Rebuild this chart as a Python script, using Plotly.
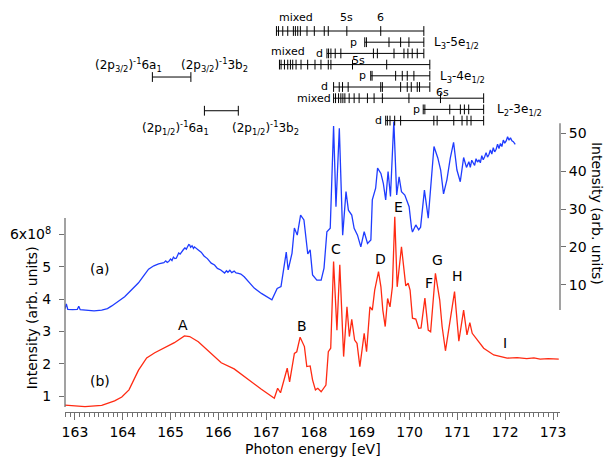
import plotly.graph_objects as go

# ---------------- spectra ----------------
# (a) upper spectrum, right axis (arb. units)
energy_a = [162.79, 162.82, 162.85, 162.95, 163.05, 163.08, 163.11, 163.25, 163.40, 163.56,
            163.68, 163.77, 163.90, 164.04, 164.18, 164.33, 164.44, 164.54, 164.65, 164.75,
            164.86, 164.90, 164.93, 164.96, 165.00, 165.03, 165.06, 165.09, 165.12, 165.15,
            165.17, 165.20, 165.24, 165.27, 165.30, 165.33, 165.35, 165.38, 165.40, 165.42,
            165.45, 165.48, 165.50, 165.54, 165.58, 165.64, 165.70, 165.77, 165.85, 165.92,
            165.98, 166.05, 166.13, 166.17, 166.20, 166.24, 166.28, 166.33, 166.37, 166.42,
            166.47, 166.54, 166.65, 166.75, 166.90, 167.00, 167.12, 167.23, 167.31, 167.42,
            167.46, 167.54, 167.59, 167.65, 167.72, 167.79, 167.87, 167.92, 167.97, 168.06,
            168.15, 168.21, 168.27, 168.34, 168.41, 168.46, 168.53, 168.60, 168.67, 168.72,
            168.79, 168.84, 168.91, 168.98, 169.05, 169.12, 169.19, 169.22, 169.29, 169.33,
            169.40, 169.45, 169.50, 169.55, 169.60, 169.67, 169.73, 169.78, 169.83, 169.90,
            169.99, 170.04, 170.06, 170.13, 170.19, 170.23, 170.31, 170.39, 170.44, 170.51,
            170.59, 170.65, 170.71, 170.78, 170.85, 170.92, 170.99, 171.06, 171.13, 171.19,
            171.24, 171.27, 171.30, 171.33, 171.36, 171.39, 171.42, 171.45, 171.48, 171.51,
            171.54, 171.57, 171.60, 171.63, 171.66, 171.69, 171.72, 171.75, 171.78, 171.81,
            171.84, 171.87, 171.90, 171.93, 171.96, 171.99, 172.02, 172.05, 172.08, 172.11,
            172.14, 172.17, 172.21]
intensity_a = [3.6, 4.9, 3.5, 3.4, 3.5, 4.3, 3.4, 3.3, 3.1, 3.3,
               3.7, 4.4, 5.5, 6.8, 8.6, 10.5, 12.4, 14.1, 15.0, 15.5,
               15.8, 16.3, 15.9, 16.1, 16.8, 16.4, 17.3, 16.9, 17.0, 18.0,
               18.4, 18.1, 18.9, 19.3, 19.7, 19.4, 19.9, 20.6, 20.5, 19.9,
               20.3, 19.6, 20.0, 19.5, 19.2, 18.6, 17.6, 16.9, 15.7, 15.2,
               14.3, 13.9, 13.1, 13.7, 13.3, 13.8, 13.2, 13.6, 13.1, 13.0,
               12.8, 12.1, 10.6, 9.1, 7.7, 7.0, 6.0, 9.0, 9.5, 18.6,
               13.9, 18.3, 25.0, 23.1, 28.4, 27.1, 18.1, 19.2, 12.6, 11.2,
               11.2, 14.4, 24.0, 24.9, 51.9, 30.6, 51.3, 23.1, 34.6, 29.7,
               28.4, 24.9, 23.1, 20.0, 24.0, 20.9, 21.8, 32.4, 35.5, 40.8,
               39.4, 36.8, 32.4, 39.9, 33.3, 53.1, 33.7, 38.5, 34.6, 33.7,
               30.6, 25.0, 23.9, 25.8, 24.5, 25.2, 35.0, 27.6, 35.0, 46.5,
               43.5, 40.3, 34.0, 37.7, 43.4, 47.6, 40.3, 37.2, 43.6, 41.0,
               42.5, 41.0, 42.9, 42.2, 41.5, 43.3, 42.4, 43.0, 42.2, 44.1,
               43.0, 43.8, 44.9, 43.7, 44.4, 45.6, 44.5, 46.2, 45.1, 45.8,
               47.1, 46.0, 47.3, 46.5, 48.2, 47.4, 48.0, 49.1, 48.2, 48.8,
               48.0, 47.8, 47.1]

# (b) lower spectrum, left axis (units of 1e8)
energy_b = [162.79, 163.21, 163.56, 163.83, 163.98, 164.13, 164.33, 164.50, 164.67, 164.88,
            165.08, 165.29, 165.40, 165.58, 165.85, 166.06, 166.33, 166.54, 166.69, 166.90,
            167.17, 167.24, 167.30, 167.38, 167.44, 167.49, 167.54, 167.59, 167.64, 167.71,
            167.80, 167.85, 167.92, 167.97, 168.03, 168.08, 168.15, 168.25, 168.30, 168.35,
            168.41, 168.48, 168.54, 168.62, 168.69, 168.74, 168.79, 168.85, 168.90, 168.96,
            169.05, 169.10, 169.17, 169.22, 169.27, 169.35, 169.40, 169.44, 169.49, 169.54,
            169.59, 169.64, 169.69, 169.74, 169.83, 169.88, 169.92, 169.97, 170.01, 170.06,
            170.13, 170.19, 170.24, 170.32, 170.39, 170.44, 170.54, 170.63, 170.68, 170.75,
            170.85, 170.94, 171.03, 171.13, 171.20, 171.26, 171.31, 171.38, 171.55, 171.76,
            172.04, 172.25, 172.45, 172.60, 172.73, 172.90, 173.12]
intensity_b = [0.72, 0.67, 0.71, 0.85, 0.97, 1.19, 1.80, 2.18, 2.34, 2.49,
               2.65, 2.86, 2.84, 2.68, 2.33, 2.03, 1.84, 1.60, 1.44, 1.21,
               0.93, 1.24, 1.10, 1.50, 1.86, 1.44, 1.91, 2.32, 2.37, 2.82,
               2.53, 1.91, 1.93, 1.50, 1.19, 1.24, 1.13, 1.34, 2.37, 2.48,
               5.16, 3.04, 5.06, 2.22, 3.76, 2.84, 3.37, 2.73, 2.63, 1.91,
               2.94, 2.37, 3.76, 3.66, 4.28, 4.85, 4.38, 3.66, 3.15, 4.02,
               3.76, 4.38, 6.55, 4.38, 5.62, 4.96, 4.41, 4.49, 4.28, 3.41,
               3.38, 3.10, 3.11, 4.03, 3.04, 2.99, 4.80, 3.97, 3.15, 2.40,
               3.41, 4.23, 2.70, 3.66, 2.89, 3.27, 2.94, 2.80, 2.48, 2.27,
               2.17, 2.19, 2.16, 2.18, 2.14, 2.16, 2.14]

# feature letters on spectrum (b)
peak_names = ["A", "B", "C", "D", "E", "F", "G", "H", "I"]
peak_energy = [165.27, 167.75, 168.46, 169.40, 169.77, 170.40, 170.58, 171.00, 172.00]

left_ticks = [1, 2, 3, 4, 5, 6]
left_ticktext = ["1", "2", "3", "4", "5", "6x10<sup>8</sup>"]
right_ticks = [10, 20, 30, 40, 50]

# ---------------- Rydberg series markers (eV) ----------------
l3_5e_mixed = [167.215, 167.257, 167.347, 167.451, 167.569, 167.611, 167.660, 167.715,
               167.854, 168.007, 168.215, 168.299, 168.687, 169.396, 170.298]
l3_5e_p = [169.062, 169.097, 169.569, 169.812, 169.986, 170.298]
l3_5e_d = [168.271, 168.305, 168.354, 168.444, 168.562, 169.243, 169.326, 169.674,
           169.882, 169.965, 170.055, 170.160, 170.298]
l3_4e_mixed = [167.278, 167.312, 167.382, 167.451, 167.507, 167.555, 167.625, 167.729,
               167.868, 168.021, 168.146, 168.299, 168.354, 168.806, 169.521, 170.423]
l3_4e_p = [169.187, 169.215, 169.708, 169.847, 169.951, 170.090, 170.423]
l3_4e_d = [168.410, 168.528, 168.597, 168.715, 169.396, 169.431, 169.812, 169.951,
           170.035, 170.160, 170.208, 170.423]
l2_3e_mixed = [168.410, 168.451, 168.514, 168.562, 168.604, 168.646, 168.736, 168.840,
               168.944, 169.118, 169.257, 169.431, 169.986, 170.646, 171.549]
l2_3e_p = [170.285, 170.319, 170.840, 171.062, 171.146, 171.236, 171.549]
l2_3e_d = [169.500, 169.535, 169.590, 169.688, 169.812, 170.507, 170.576, 170.924,
           171.097, 171.201, 171.285, 171.549]

# 2p -> 6a1 / 3b2 ranges (eV)
range_2p32 = [164.62, 165.425]
range_2p12 = [165.708, 166.417]

BLUE = "#1f3cff"
RED = "#ff2a12"
AXIS = "#707070"
FONT = "DejaVu Sans"

fig = go.Figure()

fig.add_trace(go.Scatter(x=energy_a, y=intensity_a, yaxis="y2", mode="lines",
                         line=dict(color=BLUE, width=1.3), showlegend=False))
fig.add_trace(go.Scatter(x=energy_b, y=intensity_b, yaxis="y", mode="lines",
                         line=dict(color=RED, width=1.3), showlegend=False))

# series rows in the level diagram (row index grows downward)
series_rows = [l3_5e_mixed, l3_5e_p, l3_5e_d,
               l3_4e_mixed, l3_4e_p, l3_4e_d,
               l2_3e_mixed, l2_3e_p, l2_3e_d]
tick_marker = dict(symbol="line-ns", size=7, line=dict(width=1, color="black"))
for row, energies in enumerate(series_rows):
    fig.add_trace(go.Scatter(x=energies, y=[row] * len(energies), yaxis="y3",
                             mode="lines+markers", line=dict(color="black", width=1),
                             marker=tick_marker, showlegend=False, hoverinfo="skip"))

for level, rng in [(4.11, range_2p32), (7.12, range_2p12)]:
    fig.add_trace(go.Scatter(x=rng, y=[level, level], yaxis="y3",
                             mode="lines+markers", line=dict(color="black", width=1),
                             marker=tick_marker, showlegend=False, hoverinfo="skip"))

annotations = []


def label(x, y, text, ref="y3", xanchor="center", size=12):
    annotations.append(dict(x=x, y=y, xref="x", yref=ref, text=text, showarrow=False,
                            xanchor=xanchor, yanchor="middle",
                            font=dict(family=FONT, size=size, color="black")))


# diagram text
SMALL = 11
label(167.625, -1.25, "mixed", size=SMALL)
label(168.69, -1.25, "5s", size=SMALL)
label(169.40, -1.25, "6", size=SMALL)
label(168.94, 1.0, "p", xanchor="right", size=SMALL)
label(170.47, 1.1, "L<sub>3</sub>-5e<sub>1/2</sub>", xanchor="left")
label(167.465, 1.85, "mixed", size=SMALL)
label(168.22, 2.0, "d", xanchor="right", size=SMALL)
label(168.94, 2.6, "5s", size=SMALL)
label(169.12, 4.0, "p", xanchor="right", size=SMALL)
label(170.59, 4.1, "L<sub>3</sub>-4e<sub>1/2</sub>", xanchor="left")
label(168.33, 4.95, "d", xanchor="right", size=SMALL)
label(170.68, 5.45, "6s", size=SMALL)
label(168.40, 6.0, "mixed", xanchor="right", size=SMALL)
label(170.25, 7.0, "p", xanchor="right", size=SMALL)
label(171.79, 7.05, "L<sub>2</sub>-3e<sub>1/2</sub>", xanchor="left")
label(169.47, 8.0, "d", xanchor="right", size=SMALL)

label(164.125, 3.04, "(2p<sub>3/2</sub>)<sup>-1</sup>6a<sub>1</sub>")
label(165.92, 3.04, "(2p<sub>3/2</sub>)<sup>-1</sup>3b<sub>2</sub>")
label(165.10, 8.66, "(2p<sub>1/2</sub>)<sup>-1</sup>6a<sub>1</sub>")
label(166.98, 8.66, "(2p<sub>1/2</sub>)<sup>-1</sup>3b<sub>2</sub>")

# feature letters
peak_label_y = [3.20, 3.17, 5.55, 5.24, 6.85, 4.50, 5.21, 4.72, 2.64]
for name, e, yv in zip(peak_names, peak_energy, peak_label_y):
    label(e, yv, name, ref="y", size=14)
label(163.52, 4.93, "(a)", ref="y", size=14)
label(163.52, 1.46, "(b)", ref="y", size=14)

# axis titles
title_font = dict(family=FONT, size=14, color="black")
annotations.append(dict(x=-0.066, y=0.234, xref="paper", yref="paper",
                        xanchor="center", yanchor="middle",
                        text="Intensity (arb. units)", textangle=-90, showarrow=False,
                        font=title_font))
annotations.append(dict(x=1.075, y=0.495, xref="paper", yref="paper",
                        xanchor="center", yanchor="middle",
                        text="Intensity (arb. units)", textangle=90, showarrow=False,
                        font=title_font))
annotations.append(dict(x=0.5, y=-0.092, xref="paper", yref="paper",
                        xanchor="center", yanchor="middle",
                        text="Photon energy [eV]", showarrow=False,
                        font=title_font))

shapes = [
    dict(type="line", xref="paper", x0=0, x1=0, yref="y", y0=0.66, y1=6.51,
         line=dict(color=AXIS, width=1.3)),
    dict(type="line", xref="paper", x0=1, x1=1, yref="y2", y0=3.32, y1=52.68,
         line=dict(color=AXIS, width=1.3)),
]

fig.update_layout(
    width=609, height=462,
    margin=dict(l=63, r=49, t=10, b=50),
    paper_bgcolor="white", plot_bgcolor="white",
    font=dict(family=FONT, size=14, color="black"),
    showlegend=False,
    annotations=annotations,
    shapes=shapes,
    xaxis=dict(range=[162.792, 173.146], showgrid=False, zeroline=False,
               showline=True, linecolor=AXIS, linewidth=1.3,
               ticks="outside", ticklen=7, tickwidth=1, tickcolor=AXIS,
               tick0=163, dtick=1, tickfont=dict(size=14),
               minor=dict(ticks="outside", dtick=0.1, ticklen=4, tickwidth=1,
                          tickcolor=AXIS, showgrid=False)),
    yaxis=dict(range=[0.5046, 12.950], showgrid=False, zeroline=False, showline=False,
               tickvals=left_ticks, ticktext=left_ticktext,
               ticks="outside", ticklen=5, tickwidth=1, tickcolor=AXIS,
               ticklabelstandoff=5, tickfont=dict(size=14)),
    yaxis2=dict(range=[-23.63, 82.58], overlaying="y", side="right", anchor="x",
                showgrid=False, zeroline=False, showline=False,
                tickvals=right_ticks, ticks="outside", ticklen=5, tickwidth=1,
                tickcolor=AXIS, tickfont=dict(size=14)),
    yaxis3=dict(range=[34.02, -1.875], overlaying="y", anchor="x", visible=False),
)

fig.write_html("out.html")
